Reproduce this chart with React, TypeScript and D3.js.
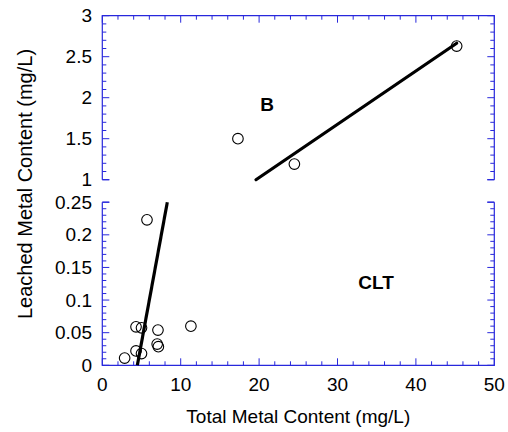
import React from "react";
import * as d3 from "d3";

// Total vs. leached metal content, broken y-axis (B on top, CLT below)
const xTicks = [0, 10, 20, 30, 40, 50];
const topYTicks = [1, 1.5, 2, 2.5, 3];
const bottomYTicks = [0, 0.05, 0.1, 0.15, 0.2, 0.25];
const topYTickLabels = ["1", "1.5", "2", "2.5", "3"];
const bottomYTickLabels = ["0", "0.05", "0.1", "0.15", "0.2", "0.25"];

// B samples
const bTotal = [17.3, 24.5, 45.2];
const bLeached = [1.5, 1.19, 2.63];
// B regression line endpoints [total, leached]
const bFit: [number, number][] = [
  [19.6, 1.0],
  [45.2, 2.664],
];

// CLT samples
const cltTotal = [5.7, 4.3, 5.0, 7.1, 11.3, 7.0, 7.15, 4.3, 5.0, 2.85];
const cltLeached = [0.223, 0.059, 0.0575, 0.054, 0.06, 0.0325, 0.0285, 0.022, 0.018, 0.011];
// CLT regression line endpoints [total, leached]
const cltFit: [number, number][] = [
  [4.47, 0],
  [8.29, 0.25],
];

const W = 508;
const H = 432;
const left = 102.3;
const right = 494.3;
const topPanel = { top: 15.7, bottom: 179.7 };
const botPanel = { top: 202.2, bottom: 365.3 };
const frame = "#2828dc";
const font = "'Liberation Sans', Arial, sans-serif";
const majorLen = 7;
const minorLen = 4;
const stubLen = 7;

export default function App() {
  const x = d3.scaleLinear().domain([0, 50]).range([left, right]);
  const yTop = d3.scaleLinear().domain([1, 3]).range([topPanel.bottom, topPanel.top]);
  const yBot = d3.scaleLinear().domain([0, 0.25]).range([botPanel.bottom, botPanel.top]);

  const xMinor = d3.range(0, 50.001, 2).filter((v) => Math.round(v) % 10 !== 0);
  const topMinor = d3.range(1, 3.0001, 0.1).filter((v) => Math.round(v * 10) % 5 !== 0);
  const botMinor = d3.range(0, 0.25001, 0.01).filter((v) => Math.round(v * 100) % 5 !== 0);

  const topLine =
    d3
      .line<[number, number]>()
      .x((d) => x(d[0]))
      .y((d) => yTop(d[1]))(bFit) || "";
  const botLine =
    d3
      .line<[number, number]>()
      .x((d) => x(d[0]))
      .y((d) => yBot(d[1]))(cltFit) || "";

  const yTicksFor = (
    scale: d3.ScaleLinear<number, number>,
    major: number[],
    minor: number[],
    keyPrefix: string
  ) => (
    <g>
      {major.map((v, i) => (
        <g key={`${keyPrefix}M${i}`}>
          <line x1={left} x2={left + majorLen} y1={scale(v)} y2={scale(v)} stroke={frame} strokeWidth={1} />
          <line x1={right} x2={right - majorLen} y1={scale(v)} y2={scale(v)} stroke={frame} strokeWidth={1} />
        </g>
      ))}
      {minor.map((v, i) => (
        <g key={`${keyPrefix}m${i}`}>
          <line x1={left} x2={left + minorLen} y1={scale(v)} y2={scale(v)} stroke={frame} strokeWidth={1} />
          <line x1={right} x2={right - minorLen} y1={scale(v)} y2={scale(v)} stroke={frame} strokeWidth={1} />
        </g>
      ))}
    </g>
  );

  return (
    <svg
      width={W}
      height={H}
      style={{ position: "absolute", left: 0, top: 0, background: "#fff" }}
      fontFamily={font}
    >
      <rect width={W} height={H} fill="#fff" />

      {/* top panel frame: top edge, sides, break stubs */}
      <path
        d={`M${left},${topPanel.bottom}V${topPanel.top}H${right}V${topPanel.bottom}`}
        fill="none"
        stroke={frame}
        strokeWidth={1.2}
      />
      <line x1={left} x2={left + stubLen} y1={topPanel.bottom} y2={topPanel.bottom} stroke={frame} strokeWidth={1.2} />
      <line x1={right} x2={right - stubLen} y1={topPanel.bottom} y2={topPanel.bottom} stroke={frame} strokeWidth={1.2} />

      {/* bottom panel frame: bottom edge, sides, break stubs */}
      <path
        d={`M${left},${botPanel.top}V${botPanel.bottom}H${right}V${botPanel.top}`}
        fill="none"
        stroke={frame}
        strokeWidth={1.2}
      />
      <line x1={left} x2={left + stubLen} y1={botPanel.top} y2={botPanel.top} stroke={frame} strokeWidth={1.2} />
      <line x1={right} x2={right - stubLen} y1={botPanel.top} y2={botPanel.top} stroke={frame} strokeWidth={1.2} />

      {/* x ticks on top edge of top panel and bottom edge of bottom panel */}
      {xTicks.map((v, i) => (
        <g key={`xM${i}`}>
          <line x1={x(v)} x2={x(v)} y1={topPanel.top} y2={topPanel.top + majorLen} stroke={frame} strokeWidth={1} />
          <line x1={x(v)} x2={x(v)} y1={botPanel.bottom} y2={botPanel.bottom - majorLen} stroke={frame} strokeWidth={1} />
        </g>
      ))}
      {xMinor.map((v, i) => (
        <g key={`xm${i}`}>
          <line x1={x(v)} x2={x(v)} y1={topPanel.top} y2={topPanel.top + minorLen} stroke={frame} strokeWidth={1} />
          <line x1={x(v)} x2={x(v)} y1={botPanel.bottom} y2={botPanel.bottom - minorLen} stroke={frame} strokeWidth={1} />
        </g>
      ))}

      {yTicksFor(yTop, topYTicks, topMinor, "t")}
      {yTicksFor(yBot, bottomYTicks, botMinor, "b")}

      {/* tick labels */}
      {xTicks.map((v, i) => (
        <text key={`xl${i}`} x={x(v)} y={391} textAnchor="middle" fontSize={19} fill="#000">
          {String(v)}
        </text>
      ))}
      {topYTicks.map((v, i) => (
        <text key={`tl${i}`} x={92} y={yTop(v)} dy="0.35em" textAnchor="end" fontSize={19} fill="#000">
          {topYTickLabels[i]}
        </text>
      ))}
      {bottomYTicks.map((v, i) => (
        <text key={`bl${i}`} x={92} y={yBot(v)} dy="0.35em" textAnchor="end" fontSize={19} fill="#000">
          {bottomYTickLabels[i]}
        </text>
      ))}

      {/* axis titles */}
      <text x={(left + right) / 2} y={423} textAnchor="middle" fontSize={19} fill="#000">
        Total Metal Content (mg/L)
      </text>
      <text transform={`translate(32,184) rotate(-90)`} textAnchor="middle" fontSize={20} fill="#000">
        Leached Metal Content (mg/L)
      </text>

      {/* fit lines */}
      <path d={topLine} fill="none" stroke="#000" strokeWidth={3.2} strokeLinecap="round" />
      <path d={botLine} fill="none" stroke="#000" strokeWidth={3.2} />

      {/* points */}
      {bTotal.map((v, i) => (
        <circle key={`bp${i}`} cx={x(v)} cy={yTop(bLeached[i])} r={5.3} fill="none" stroke="#000" strokeWidth={1.1} />
      ))}
      {cltTotal.map((v, i) => (
        <circle key={`cp${i}`} cx={x(v)} cy={yBot(cltLeached[i])} r={5.3} fill="none" stroke="#000" strokeWidth={1.1} />
      ))}

      {/* panel labels */}
      <text x={267} y={104} dy="0.35em" textAnchor="middle" fontSize={19} fontWeight="bold" fill="#000">
        B
      </text>
      <text x={376} y={282} dy="0.35em" textAnchor="middle" fontSize={19} fontWeight="bold" fill="#000">
        CLT
      </text>
    </svg>
  );
}
